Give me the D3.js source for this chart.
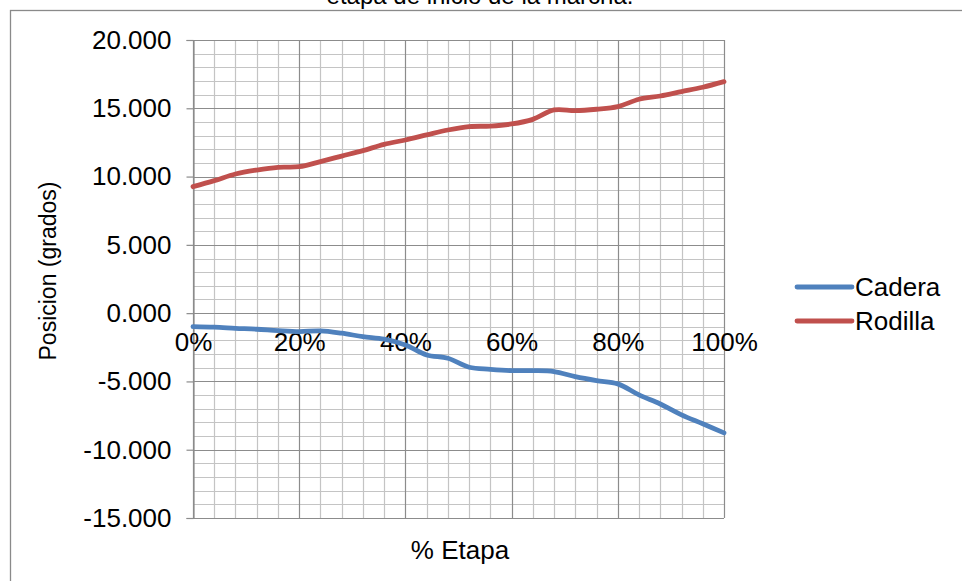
<!DOCTYPE html>
<html>
<head>
<meta charset="utf-8">
<script src="https://cdn.jsdelivr.net/npm/d3@7"></script>
<style>
  html, body { margin: 0; padding: 0; background: #fff; }
  svg { display: block; font-family: "Liberation Sans", Arial, sans-serif; }
</style>
</head>
<body>
<svg id="chart" width="962" height="581"></svg>
<script>
// Percent of the stage (x) at which each angle was sampled
const etapa = [0, 4, 8, 12, 16, 20, 24, 28, 32, 36, 40, 44, 48, 52, 56, 60, 64, 68, 72, 76, 80, 84, 88, 92, 96, 100];

// Joint angles in degrees
const cadera = [-0.99, -1.03, -1.11, -1.18, -1.28, -1.35, -1.30, -1.47, -1.72, -1.91, -2.33, -3.06, -3.30, -3.96,
                -4.11, -4.21, -4.21, -4.28, -4.65, -4.94, -5.18, -5.99, -6.65, -7.45, -8.10, -8.77];
const rodilla = [9.26, 9.70, 10.19, 10.48, 10.68, 10.72, 11.10, 11.50, 11.90, 12.36, 12.68, 13.05, 13.41, 13.66,
                 13.70, 13.85, 14.19, 14.88, 14.83, 14.93, 15.12, 15.66, 15.90, 16.22, 16.54, 16.95];

const seriesNames = ["Cadera", "Rodilla"];
const seriesColors = ["#4F81BD", "#C0504D"];

// Axis tick values and their labels
const yTicks = [20, 15, 10, 5, 0, -5, -10, -15];
const yTickLabels = ["20.000", "15.000", "10.000", "5.000", "0.000", "-5.000", "-10.000", "-15.000"];
const xTicks = [0, 20, 40, 60, 80, 100];
const xTickLabels = ["0%", "20%", "40%", "60%", "80%", "100%"];

const titleText = "etapa de inicio de la marcha.";
const xTitle = "% Etapa";
const yTitle = "Posicion (grados)";

const svg = d3.select("#chart");
const FONT = 26;
const TITLE_FONT = 24;
const FAMILY = "Liberation Sans, Arial, sans-serif";

const plot = { left: 193, right: 724, top: 40, bottom: 518 };
const x = d3.scaleLinear().domain([0, 100]).range([plot.left, plot.right]);
const y = d3.scaleLinear().domain([-15, 20]).range([plot.bottom, plot.top]);

// Outer chart frame (extends past the visible area on right and bottom)
svg.append("rect")
  .attr("x", 10.5).attr("y", 10.5)
  .attr("width", 1000).attr("height", 1000)
  .attr("fill", "none").attr("stroke", "#8a8a8a").attr("stroke-width", 1.3);

// Title (second line of a wrapped title)
svg.append("text")
  .attr("x", 480).attr("y", 4)
  .attr("text-anchor", "middle")
  .attr("font-size", TITLE_FONT)
  .attr("fill", "#000")
  .text(titleText);

const grid = svg.append("g");

// Minor grid: every 1 degree and every 4 %
const minorY = d3.range(-15, 20.001, 1).filter(v => v % 5 !== 0);
const minorX = d3.range(0, 100.001, 4).filter(v => v % 20 !== 0);
grid.selectAll("line.minor-y").data(minorY).join("line")
  .attr("x1", plot.left).attr("x2", plot.right)
  .attr("y1", d => Math.round(y(d)) + 0.5).attr("y2", d => Math.round(y(d)) + 0.5)
  .attr("stroke", "#c4c4c4").attr("stroke-width", 1.2);
grid.selectAll("line.minor-x").data(minorX).join("line")
  .attr("y1", plot.top).attr("y2", plot.bottom)
  .attr("x1", d => Math.round(x(d)) + 0.5).attr("x2", d => Math.round(x(d)) + 0.5)
  .attr("stroke", "#c4c4c4").attr("stroke-width", 1.2);

// Major grid: every 5 degrees and every 20 %
grid.selectAll("line.major-y").data(yTicks).join("line")
  .attr("x1", plot.left).attr("x2", plot.right)
  .attr("y1", d => Math.round(y(d)) + 0.5).attr("y2", d => Math.round(y(d)) + 0.5)
  .attr("stroke", "#8c8c8c").attr("stroke-width", 1.2);
grid.selectAll("line.major-x").data(xTicks).join("line")
  .attr("y1", plot.top).attr("y2", plot.bottom)
  .attr("x1", d => Math.round(x(d)) + 0.5).attr("x2", d => Math.round(x(d)) + 0.5)
  .attr("stroke", "#8c8c8c").attr("stroke-width", 1.2);

// Y axis with labels
const yAxis = d3.axisLeft(y)
  .tickValues(yTicks)
  .tickFormat((d, i) => yTickLabels[i])
  .tickSize(7)
  .tickPadding(15);
const yAxisG = svg.append("g")
  .attr("transform", `translate(${plot.left + 0.5},0)`)
  .call(yAxis);
yAxisG.select(".domain").attr("stroke", "#8c8c8c").attr("stroke-width", 1.2);
yAxisG.selectAll(".tick line").attr("stroke", "#8c8c8c").attr("stroke-width", 1.2);
yAxisG.selectAll(".tick text")
  .attr("font-size", FONT).attr("font-family", FAMILY)
  .attr("fill", "#000");

// X axis labels at y = 0
const xAxis = d3.axisBottom(x)
  .tickValues(xTicks)
  .tickFormat((d, i) => xTickLabels[i])
  .tickSize(0)
  .tickPadding(19);
const xAxisG = svg.append("g")
  .attr("transform", `translate(0,${Math.round(y(0)) + 0.5})`)
  .call(xAxis);
xAxisG.select(".domain").remove();
xAxisG.selectAll(".tick text")
  .attr("font-size", FONT).attr("font-family", FAMILY)
  .attr("fill", "#000");

// Axis titles
svg.append("text")
  .attr("x", 460).attr("y", 559)
  .attr("text-anchor", "middle")
  .attr("font-size", FONT)
  .text(xTitle);
svg.append("text")
  .attr("transform", "translate(56,271) rotate(-90)")
  .attr("text-anchor", "middle")
  .attr("font-size", 23)
  .text(yTitle);

// Smoothed series lines
const allSeries = [cadera, rodilla];
const line = d3.line()
  .x((d, i) => x(etapa[i]))
  .y(d => y(d))
  .curve(d3.curveCatmullRom.alpha(0.5));
svg.append("g").selectAll("path").data(allSeries).join("path")
  .attr("d", d => line(d))
  .attr("fill", "none")
  .attr("stroke", (d, i) => seriesColors[i])
  .attr("stroke-width", 4.8)
  .attr("stroke-linecap", "round")
  .attr("stroke-linejoin", "round");

// Legend
const legend = svg.append("g");
const legendRows = legend.selectAll("g").data(seriesNames).join("g")
  .attr("transform", (d, i) => `translate(797,${287 + i * 34})`);
legendRows.append("line")
  .attr("x1", 0).attr("x2", 55).attr("y1", 0).attr("y2", 0)
  .attr("stroke", (d, i) => seriesColors[i])
  .attr("stroke-width", 4.8).attr("stroke-linecap", "round");
legendRows.append("text")
  .attr("x", 58).attr("y", 0).attr("dy", "0.35em")
  .attr("font-size", FONT)
  .text(d => d);
</script>
</body>
</html>
